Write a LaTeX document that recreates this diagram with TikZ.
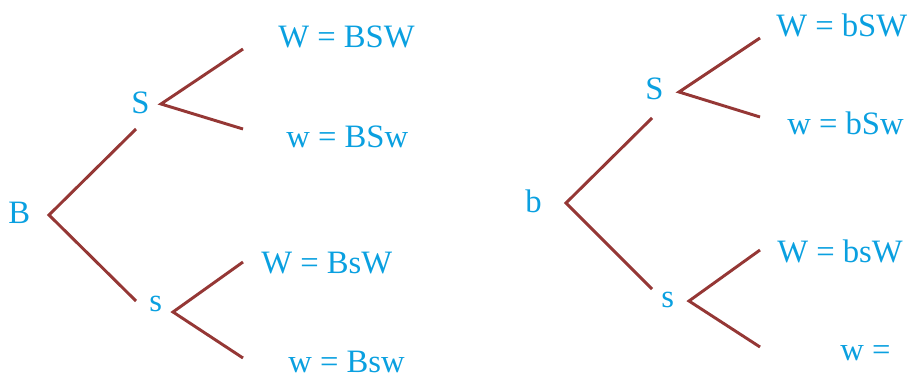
\documentclass[tikz,border=0pt]{standalone}
\usepackage{fontspec}
\setmainfont{Liberation Serif}
\definecolor{txtblue}{HTML}{0AA0E0}
\definecolor{branch}{HTML}{953735}
\begin{document}
\begin{tikzpicture}[x=0.75pt,y=-0.75pt,
  lbl/.style={anchor=base west,inner sep=0pt,text=txtblue,font=\fontsize{24.5}{29}\selectfont},
  br/.style={draw=branch,line width=2.2pt}]
\useasboundingbox (0,0) rectangle (909,374);
% left tree
\node[lbl] (B) at (8,223) {B};
\node[lbl] (S1) at (131,114) {S};
\node[lbl] (s1) at (149,311) {s};
\node[lbl] (l1) at (278,48) {W = BSW};
\node[lbl] (l2) at (286,147) {w = BSw};
\node[lbl] (l3) at (261,273) {W = BsW};
\node[lbl] (l4) at (288,372) {w = Bsw};
\coordinate (vB) at (49,215);
\coordinate (eS1) at (136,129);
\coordinate (es1) at (136,301);
\coordinate (vS1) at (161,104);
\coordinate (e1) at (243,49);
\coordinate (e2) at (243,129);
\coordinate (vs1) at (173,312);
\coordinate (e3) at (243,262);
\coordinate (e4) at (243,358);
\draw[br] (eS1) -- (vB) -- (es1);
\draw[br] (e1) -- (vS1) -- (e2);
\draw[br] (e3) -- (vs1) -- (e4);
% right tree
\node[lbl] (b) at (525,212) {b};
\node[lbl] (S2) at (645,100) {S};
\node[lbl] (s2) at (661,307) {s};
\node[lbl] (r1) at (776,37) {W = bSW};
\node[lbl] (r2) at (787,135) {w = bSw};
\node[lbl] (r3) at (777,262) {W = bsW};
\node[lbl] (r4) at (840,360) {w =};
\coordinate (vb) at (566,203);
\coordinate (eS2) at (652,118);
\coordinate (es2) at (652,289);
\coordinate (vS2) at (679,92);
\coordinate (f1) at (760,38);
\coordinate (f2) at (760,117);
\coordinate (vs2) at (689,301);
\coordinate (f3) at (760,250);
\coordinate (f4) at (760,347);
\draw[br] (eS2) -- (vb) -- (es2);
\draw[br] (f1) -- (vS2) -- (f2);
\draw[br] (f3) -- (vs2) -- (f4);
\end{tikzpicture}
\end{document}
